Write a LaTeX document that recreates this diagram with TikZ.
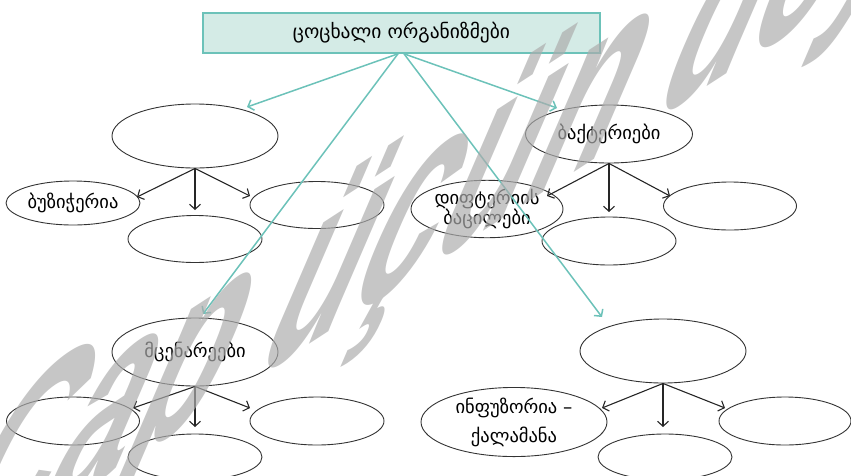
\documentclass[tikz,border=0pt]{standalone}
\usepackage{fontspec}
\setmainfont{DejaVu Sans}
\newfontfamily\wmfont{Liberation Sans}
\usetikzlibrary{shapes.geometric,arrows.meta}

\definecolor{linkteal}{RGB}{108,194,185}
\definecolor{boxfill}{RGB}{212,235,230}
\definecolor{wmgray}{RGB}{172,172,172}

\tikzset{
  bubble/.style={ellipse, draw=black!80, line width=0.9pt, inner sep=0pt,
    align=center, font=\fontsize{18.5}{19}\selectfont},
  link/.style={draw=linkteal, line width=1.5pt,
    -{Straight Barb[length=5pt,width=11pt]}},
  branch/.style={draw=black!85, line width=1.1pt,
    -{Straight Barb[length=5pt,width=11pt]}},
}

\begin{document}
\begin{tikzpicture}[x=1pt,y=-1pt]
\path[use as bounding box, clip] (0,0) rectangle (851,475);

% heading
\node[draw=linkteal, fill=boxfill, line width=1.6pt, minimum width=397pt,
      minimum height=40pt, inner sep=0pt, font=\fontsize{19.5}{20}\selectfont]
  (title) at (401.5,33) {ცოცხალი ორგანიზმები};
\coordinate (hubL) at ([xshift=-3.5pt]title.south);
\coordinate (hubR) at ([xshift=2.5pt]title.south);

% upper-left group
\node[bubble, minimum width=166pt, minimum height=64pt] (tl) at (195,136) {};
\node[bubble, minimum width=134pt, minimum height=44pt] (bz) at (73,203) {ბუზიჭერია};
\node[bubble, minimum width=134pt, minimum height=47pt] (tlm) at (195,239) {};
\node[bubble, minimum width=134pt, minimum height=47pt] (tlr) at (317,205) {};

% upper-right group
\node[bubble, minimum width=167pt, minimum height=58pt] (bac) at (609,134) {ბაქტერიები};
\node[bubble, minimum width=152pt, minimum height=53pt] (dif) at (487,209)
  {დიფტერიის\\ბაცილები};
\node[bubble, minimum width=134pt, minimum height=48pt] (bacm) at (609,241) {};
\node[bubble, minimum width=133pt, minimum height=48pt] (bacr) at (730,206) {};

% lower-left group
\node[bubble, minimum width=166pt, minimum height=68pt] (mc) at (195,352) {მცენარეები};
\node[bubble, minimum width=133pt, minimum height=48pt] (mcl) at (73,421) {};
\node[bubble, minimum width=134pt, minimum height=46pt] (mcm) at (195,457) {};
\node[bubble, minimum width=134pt, minimum height=48pt] (mcr) at (317,421) {};

% lower-right group
\node[bubble, minimum width=166pt, minimum height=64pt] (br) at (663,351) {};
\node[bubble, minimum width=186pt, minimum height=68pt,
      font=\fontsize{18.5}{29}\selectfont]
  (inf) at (514,422) {ინფუზორია –\\ქალამანა};
\node[bubble, minimum width=134pt, minimum height=46pt] (brm) at (665,457) {};
\node[bubble, minimum width=132pt, minimum height=48pt] (brr) at (785,421) {};

% arrow tips of the branches
\coordinate (tl-a) at (137,197);  \coordinate (tl-b) at (195,210);  \coordinate (tl-c) at (250,196);
\coordinate (bac-a) at (547,196); \coordinate (bac-b) at (609,212); \coordinate (bac-c) at (670,196);
\coordinate (mc-a) at (133,408);  \coordinate (mc-b) at (195,427);  \coordinate (mc-c) at (250,408);
\coordinate (br-a) at (602,408);  \coordinate (br-b) at (663,427);  \coordinate (br-c) at (725,408);
% arrow tips of the links from the heading
\coordinate (tl-in) at (247,107);
\coordinate (bac-in) at (557,108);
\coordinate (mc-in) at (203,314);
\coordinate (br-in) at (602,317);

\foreach \p in {tl,bac,mc,br}
  \foreach \q in {a,b,c}
    \draw[branch] (\p.south) -- (\p-\q);

\draw[link] (hubL) -- (tl-in);
\draw[link] (hubL) -- (mc-in);
\draw[link] (hubR) -- (bac-in);
\draw[link] (hubR) -- (br-in);

% watermark
\begin{scope}[shift={(-76,595)}, rotate=33, xslant=1.5]
  \node[transform shape, anchor=base west, inner sep=0pt, text=wmgray,
        text opacity=0.69, font=\wmfont\bfseries\fontsize{178}{178}\selectfont]
    (wm) at (0,0) {Çap üçün deyil};
\end{scope}
\end{tikzpicture}
\end{document}
